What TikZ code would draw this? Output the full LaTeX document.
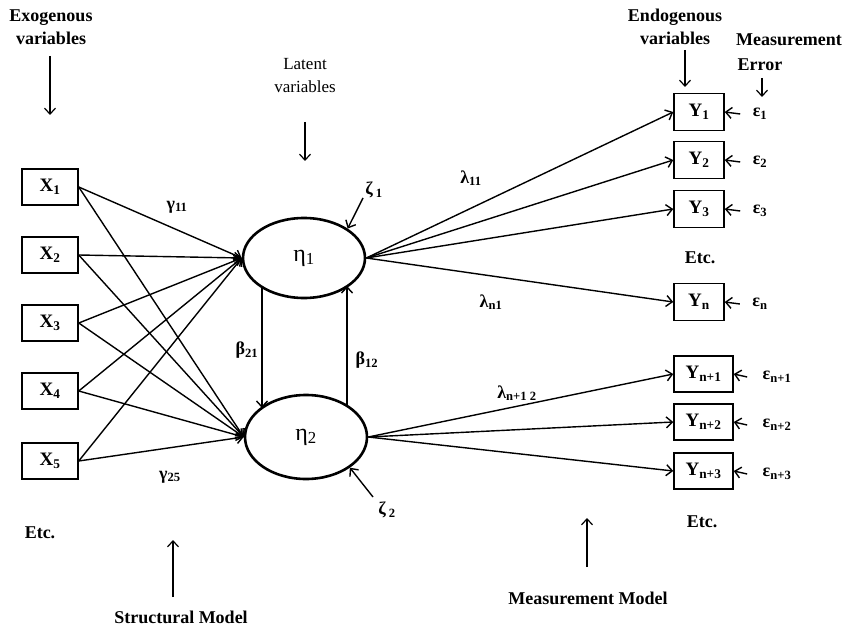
\documentclass[tikz,border=0pt]{standalone}
\usepackage{fontspec}
\setmainfont{Liberation Serif}
\usetikzlibrary{arrows.meta,shapes.geometric}
\begin{document}
\begin{tikzpicture}[x=1pt,y=-1pt,
  arr/.style={draw, line width=1.4pt, -{Straight Barb[length=6pt,width=11pt]}},
  harr/.style={draw, line width=1.2pt, -{Straight Barb[length=6pt,width=11pt]}},
  xbox/.style={draw, line width=1.5pt, minimum width=56pt, minimum height=36pt, inner sep=0pt, font=\fontsize{19}{20}\selectfont\bfseries},
  ybox/.style={xbox, minimum width=50pt, minimum height=37pt},
  ynbox/.style={xbox, minimum width=59pt},
  lat/.style={ellipse, draw, line width=2.6pt, minimum width=122pt, minimum height=80pt, inner sep=0pt, font=\fontsize{24}{26}\selectfont},
  head/.style={align=center, font=\fontsize{18}{23}\selectfont\bfseries},
  coef/.style={font=\fontsize{18}{19}\selectfont\bfseries},
]
\useasboundingbox (0,0) rectangle (845,631);

% exogenous boxes
\node[xbox] (x1) at (50,187) {X\textsubscript{1}};
\node[xbox] (x2) at (50,255) {X\textsubscript{2}};
\node[xbox] (x3) at (50,323) {X\textsubscript{3}};
\node[xbox] (x4) at (50,391) {X\textsubscript{4}};
\node[xbox] (x5) at (50,461) {X\textsubscript{5}};

% latent
\node[lat] (e1) at (304,258) {η\textsubscript{1}};
\node[lat, minimum height=84pt] (e2) at (306,437) {η\textsubscript{2}};

% endogenous boxes
\node[ybox] (y1) at (699,112) {Y\textsubscript{1}};
\node[ybox] (y2) at (699,160) {Y\textsubscript{2}};
\node[ybox] (y3) at (699,209) {Y\textsubscript{3}};
\node[ybox] (yn) at (699,302) {Y\textsubscript{n}};
\node[ynbox] (yn1) at (703.5,374) {Y\textsubscript{n+1}};
\node[ynbox] (yn2) at (703.5,422) {Y\textsubscript{n+2}};
\node[ynbox] (yn3) at (703.5,471) {Y\textsubscript{n+3}};

% errors
\node[coef] (ep1) at (760,114) {ε\textsubscript{1}};
\node[coef] (ep2) at (760,162) {ε\textsubscript{2}};
\node[coef] (ep3) at (760,211) {ε\textsubscript{3}};
\node[coef] (epn) at (760,304) {ε\textsubscript{n}};
\node[coef] (epn1) at (777,377) {ε\textsubscript{n+1}};
\node[coef] (epn2) at (777,425) {ε\textsubscript{n+2}};
\node[coef] (epn3) at (777,474) {ε\textsubscript{n+3}};
\foreach \e/\y in {ep1/y1,ep2/y2,ep3/y3,epn/yn}
  \draw[arr] ([xshift=-9pt]\e.west) -- (\y.east);
\foreach \e/\y in {epn1/yn1,epn2/yn2,epn3/yn3}
  \draw[arr] ([xshift=-12pt]\e.west) -- (\y.east);

% structural paths
\foreach \x in {x1,x2,x3,x4,x5}{
  \draw[arr] (\x.east) -- (e1.west);
  \draw[arr] (\x.east) -- (e2.west);
}
\draw[arr] ([xshift=-42pt,yshift=-29pt]e1.center) -- ([xshift=-44pt,yshift=29pt]e2.center);
\draw[arr] ([xshift=41pt,yshift=31pt]e2.center) -- ([xshift=43pt,yshift=-28pt]e1.center);

% measurement paths
\foreach \y in {y1,y2,y3,yn}
  \draw[arr] (e1.east) -- (\y.west);
\foreach \y in {yn1,yn2,yn3}
  \draw[arr] (e2.east) -- (\y.west);

% coefficient labels
\node[coef] (g11) at (177,207) {γ\textsubscript{11}};
\node[coef] (g25) at (170,477) {γ\textsubscript{25}};
\node[coef] (b21) at (247,350) {β\textsubscript{21}};
\node[coef] (b12) at (367,360) {β\textsubscript{12}};
\node[coef] (l11) at (471,178) {λ\textsubscript{11}};
\node[coef] (ln1) at (491,302) {λ\textsubscript{n1}};
\node[coef] (ln12) at (517,393) {λ\textsubscript{n+1 2}};
\node[coef] (z1) at (374,190) {ζ\,\textsubscript{1}};
\node[coef] (z2) at (387,510) {ζ\,\textsubscript{2}};
\coordinate (z1s) at (363,198);
\coordinate (z2s) at (373,497);
\draw[arr] (z1s) -- (e1.34);
\draw[arr] (z2s) -- (e2.-35);

% headers
\node[head] (exo) at (51,27) {Exogenous\\variables};
\coordinate (exoa) at (50,56);
\coordinate (exob) at (50,115);
\draw[harr] (exoa) -- (exob);

\node[align=center, font=\fontsize{17}{23}\selectfont] (latv) at (305,76) {Latent\\variables};
\coordinate (lata) at (305,122);
\coordinate (latb) at (305,161);
\draw[harr] (lata) -- (latb);

\node[head] (endo) at (675,27) {Endogenous\\variables};
\coordinate (endoa) at (685,50);
\coordinate (endob) at (685,87);
\draw[harr] (endoa) -- (endob);

\node[head] (meas) at (789,40) {Measurement};
\node[head] (err) at (760,65) {Error};
\coordinate (erra) at (762,78);
\coordinate (errb) at (762,97);
\draw[harr] (erra) -- (errb);

\node[head] (etc1) at (40,533) {Etc.};
\node[head] (etc2) at (700,258) {Etc.};
\node[head] (etc3) at (702,522) {Etc.};

\node[head] (sm) at (181,617) {Structural Model};
\coordinate (sma) at (173,597);
\coordinate (smb) at (173,540);
\draw[harr] (sma) -- (smb);

\node[head] (mm) at (588,598) {Measurement Model};
\coordinate (mma) at (587,567);
\coordinate (mmb) at (587,518);
\draw[harr] (mma) -- (mmb);
\end{tikzpicture}
\end{document}
